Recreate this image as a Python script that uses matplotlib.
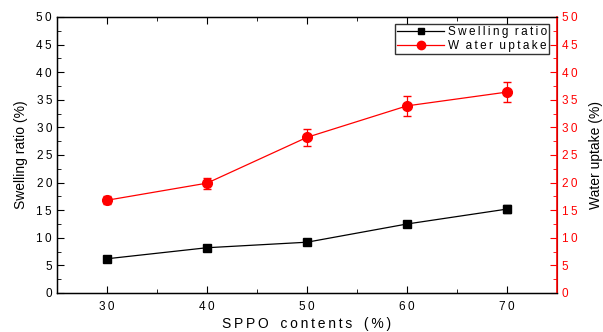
import matplotlib
matplotlib.use('Agg')
import matplotlib.pyplot as plt
from matplotlib.lines import Line2D
from matplotlib.ticker import MultipleLocator, FuncFormatter

plt.rcParams['font.family'] = ['Liberation Sans', 'DejaVu Sans']

sppo = [30, 40, 50, 60, 70]
swelling = [6.2, 8.2, 9.2, 12.5, 15.2]
swelling_err = [0.3, 0.3, 0.3, 0.4, 0.7]
uptake = [16.8, 19.9, 28.2, 33.9, 36.4]
uptake_err = [0.7, 1.0, 1.5, 1.8, 1.8]

TS = '\u2009'


def spaced(s):
    # the original uses letter-spaced text
    return TS.join(s)


tick_fmt = FuncFormatter(lambda v, p: spaced('%d' % v))

fig = plt.figure(figsize=(6.03, 3.32), dpi=100)
ax = fig.add_axes([0.0945, 0.1175, 0.8292, 0.8313])
ax2 = ax.twinx()

ax.errorbar(sppo, swelling, yerr=swelling_err, color='black', marker='s',
            markersize=6, linewidth=0.9, capsize=3, elinewidth=0.9)
ax2.errorbar(sppo, uptake, yerr=uptake_err, color='red', marker='o',
             markersize=7, linewidth=0.9, capsize=3, elinewidth=0.9)

ax.set_xlim(25, 75)
ax.set_ylim(0, 50)
ax2.set_ylim(0, 50)
ax.set_xticks(sppo)
ax.xaxis.set_minor_locator(MultipleLocator(5))
ax.yaxis.set_major_locator(MultipleLocator(5))
ax.yaxis.set_minor_locator(MultipleLocator(2.5))
ax2.yaxis.set_major_locator(MultipleLocator(5))
ax2.yaxis.set_minor_locator(MultipleLocator(2.5))
ax.xaxis.set_major_formatter(tick_fmt)
ax.yaxis.set_major_formatter(tick_fmt)
ax2.yaxis.set_major_formatter(tick_fmt)

ax.tick_params(axis='both', which='both', direction='in', labelsize=8.5)
ax.tick_params(axis='x', which='both', top=True)
ax.tick_params(axis='x', which='major', pad=6)
ax.tick_params(which='major', length=5)
ax.tick_params(which='minor', length=3)
ax2.tick_params(axis='y', which='both', direction='in', colors='red', labelsize=8.5)
ax2.tick_params(which='major', length=5)
ax2.tick_params(which='minor', length=3)
ax2.spines['right'].set_color('red')
ax2.spines['right'].set_linewidth(1.2)
for s in ['left', 'bottom', 'top']:
    ax.spines[s].set_linewidth(1.0)

ax.set_xlabel(spaced('SPPO') + '   ' + spaced('contents') + '   ' + spaced('(%)'),
              fontsize=10, labelpad=3)
ax.set_ylabel('Swelling ratio (%)', fontsize=10, labelpad=6)
ax2.set_ylabel('Water uptake (%)', fontsize=10, labelpad=8)

h1 = Line2D([], [], color='black', marker='s', markersize=5, linewidth=0.9)
h2 = Line2D([], [], color='red', marker='o', markersize=6, linewidth=0.9)
leg = ax2.legend([h1, h2], [spaced('Swelling') + '  ' + spaced('ratio'),
                            'W  ' + spaced('ater') + '  ' + spaced('uptake')],
                 loc='upper right', bbox_to_anchor=(0.985, 0.975), fontsize=8.5,
                 frameon=True, fancybox=False, edgecolor='black', borderpad=0.2,
                 labelspacing=0.15, handlelength=4.0, handletextpad=0.3,
                 borderaxespad=0)
leg.get_frame().set_linewidth(1.0)

fig.savefig('out.png', dpi=100)
